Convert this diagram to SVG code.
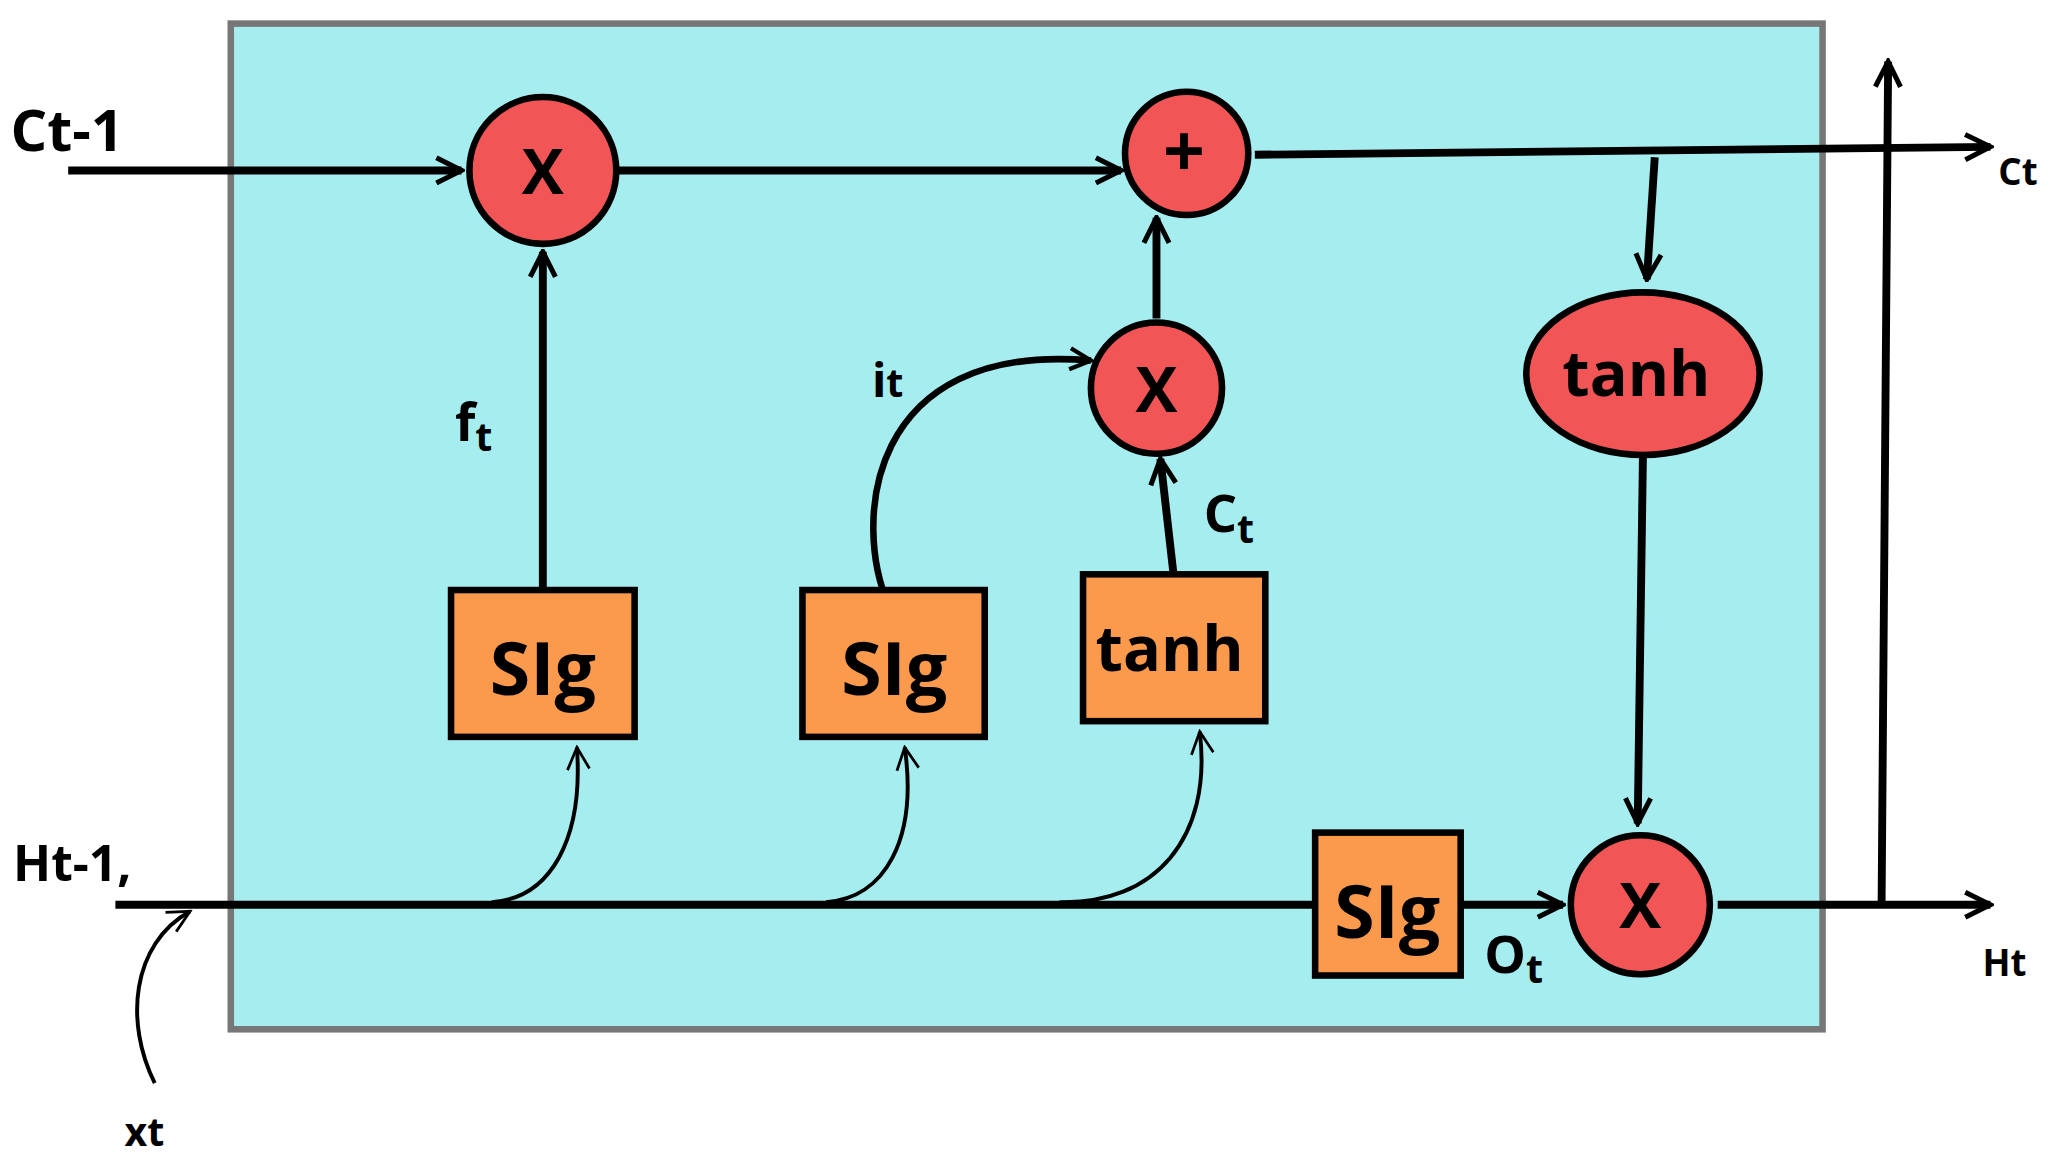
<svg xmlns="http://www.w3.org/2000/svg" width="2056" height="1169" viewBox="0 0 2056 1169">
<defs>
<style>
.ln{stroke:#000;stroke-width:6;fill:none}
.th{stroke:#000;stroke-width:3;fill:none}
.c{fill:#f25555;stroke:#000;stroke-width:5}
.b{fill:#fb9a4d;stroke:#000;stroke-width:5}
.t{font-family:"Open Sans","Noto Sans",sans-serif;font-weight:bold;fill:#000}
</style>
<marker id="a" viewBox="0 0 10 10" refX="9" refY="5" markerWidth="4" markerHeight="4" orient="auto" markerUnits="strokeWidth"><path d="M1,1 L9,5 L1,9" fill="none" stroke="#000" stroke-width="1.6"/></marker>
<marker id="o" viewBox="0 0 10 10" refX="9" refY="5" markerWidth="7" markerHeight="7" orient="auto" markerUnits="strokeWidth"><path d="M1,1 L9,5 L1,9" fill="none" stroke="#000" stroke-width="1"/></marker>
</defs>
<rect width="2056" height="1169" fill="#fff"/>
<g transform="scale(1.3112)">
<rect id="cell" x="176" y="18" width="1214" height="767" fill="#a6edf0" stroke="#777" stroke-width="5"/>
<g id="connectors">
<path class="ln" d="M52,130 H352" marker-end="url(#a)"/>
<path class="ln" d="M472,130 H855" marker-end="url(#a)"/>
<path class="ln" d="M957,118 L1518,112" marker-end="url(#a)"/>
<path class="ln" d="M1262,120 L1256,213" marker-end="url(#a)"/>
<path class="ln" d="M1253,348 L1249,628" marker-end="url(#a)"/>
<path class="ln" d="M88,690 H1003"/>
<path class="ln" d="M1114,690 H1192" marker-end="url(#a)"/>
<path class="ln" d="M1310,690 H1518" marker-end="url(#a)"/>
<path class="ln" d="M1435,690 L1440,47" marker-end="url(#a)"/>
<path class="ln" d="M414,450 V192" marker-end="url(#a)"/>
<path class="ln" d="M895,438 L885,350" marker-end="url(#a)"/>
<path class="ln" d="M882,243 V166" marker-end="url(#a)"/>
<path class="ln" style="stroke-width:5" d="M678,462 C650,400 660,260 832,275" marker-end="url(#a)"/>
<path class="th" d="M375,688 C420,685 445,640 440,570" marker-end="url(#o)"/>
<path class="th" d="M630,688 C675,685 700,640 690,570" marker-end="url(#o)"/>
<path class="th" d="M808,688 C880,690 925,640 915,558" marker-end="url(#o)"/>
<path class="th" d="M118,826 C95,780 100,720 145,695" marker-end="url(#o)"/>
</g>
<g id="x1"><circle class="c" cx="414" cy="130" r="56"/><text class="t" x="414" y="148" font-size="48" text-anchor="middle">X</text></g>
<g id="plus"><circle class="c" cx="905" cy="117" r="47"/><text class="t" x="903" y="135" font-size="56" text-anchor="middle">+</text></g>
<g id="x2"><circle class="c" cx="882" cy="296" r="50"/><text class="t" x="882" y="314" font-size="48" text-anchor="middle">X</text></g>
<g id="tanh1"><ellipse class="c" cx="1253" cy="285" rx="89" ry="62"/><text class="t" x="1248" y="302" font-size="48" text-anchor="middle">tanh</text></g>
<g id="x3"><circle class="c" cx="1251" cy="690" r="53"/><text class="t" x="1251" y="708" font-size="48" text-anchor="middle">X</text></g>
<g id="sig1"><rect class="b" x="344" y="450" width="140" height="112"/><text class="t" x="414" y="530" font-size="56" text-anchor="middle">SIg</text></g>
<g id="sig2"><rect class="b" x="612" y="450" width="139" height="112"/><text class="t" x="682" y="530" font-size="56" text-anchor="middle">SIg</text></g>
<g id="tanh2"><rect class="b" x="826" y="438" width="139" height="112"/><text class="t" x="892" y="512" font-size="48" text-anchor="middle">tanh</text></g>
<g id="sig3"><rect class="b" x="1003" y="635" width="111" height="109"/><text class="t" x="1058" y="715" font-size="56" text-anchor="middle">SIg</text></g>
<g id="labels">
<text class="t" x="8" y="115" font-size="44">Ct-1</text>
<text class="t" x="1524" y="141" font-size="28">Ct</text>
<text class="t" x="10" y="672" font-size="38">Ht-1,</text>
<text class="t" x="1512" y="744" font-size="28">Ht</text>
<text class="t" x="95" y="874" font-size="30">xt</text>
<text class="t" x="347" y="336" font-size="40">f<tspan font-size="30" dy="8">t</tspan></text>
<text class="t" x="665" y="303" font-size="36">i<tspan font-size="30">t</tspan></text>
<text class="t" x="918" y="406" font-size="40">C<tspan font-size="30" dy="8">t</tspan></text>
<text class="t" x="1132" y="742" font-size="40">O<tspan font-size="30" dy="8">t</tspan></text>
</g>
</g>
</svg>
